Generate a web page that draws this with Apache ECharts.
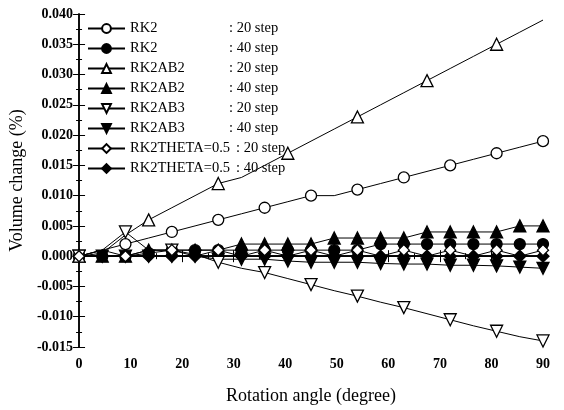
<!DOCTYPE html>
<html><head><meta charset="utf-8">
<script src="https://cdn.jsdelivr.net/npm/echarts@6/dist/echarts.min.js"></script>
<style>html,body{margin:0;padding:0;background:#fff}#c{width:564px;height:410px}</style>
</head><body><div id="c"></div>
<script>
// Rotation angle samples (degrees)
const angles = [0,4.5,9,13.5,18,22.5,27,31.5,36,40.5,45,49.5,54,58.5,63,67.5,72,76.5,81,85.5,90];
const xTicks = [0,10,20,30,40,50,60,70,80,90];
const yTicks = [-0.015,-0.010,-0.005,0.000,0.005,0.010,0.015,0.020,0.025,0.030,0.035,0.040];

const rk2_20      = [0,0.001,0.002,0.003,0.004,0.005,0.006,0.007,0.008,0.009,0.010,0.010,0.011,0.012,0.013,0.014,0.015,0.016,0.017,0.018,0.019];
const rk2_40      = [0,0,0,0.0005,0.001,0.001,0.001,0.001,0.001,0.001,0.001,0.001,0.001,0.002,0.002,0.002,0.002,0.002,0.002,0.002,0.002];
const rk2ab2_20   = [0,0.0005,0.0035,0.006,0.008,0.010,0.012,0.013,0.015,0.017,0.019,0.021,0.023,0.025,0.027,0.029,0.031,0.033,0.035,0.037,0.039];
const rk2ab2_40   = [0,0,0,0.001,0.001,0.001,0.001,0.002,0.002,0.002,0.002,0.003,0.003,0.003,0.003,0.004,0.004,0.004,0.004,0.005,0.005];
const rk2ab3_20   = [0,0.001,0.004,0.001,0.001,0.0003,-0.001,-0.002,-0.0027,-0.0037,-0.0047,-0.0057,-0.0066,-0.0076,-0.0085,-0.0095,-0.0105,-0.0115,-0.0124,-0.0133,-0.014];
const rk2ab3_40   = [0,0,0,0,0,0,-0.0005,-0.0005,-0.0005,-0.0008,-0.001,-0.001,-0.001,-0.0012,-0.0013,-0.0013,-0.0015,-0.0015,-0.0016,-0.0018,-0.002];
const theta_20    = [0,0.001,0,0.001,0.001,0,0.001,0,0.001,0,0.001,0,0.001,0,0.001,0,0.001,0,0.001,0,0.001];
const theta_40    = [0,0,0,0,0,0,0,0,0,0,0,0,0,0,0,0,0,0,0,0,0];

const methods = ['RK2','RK2','RK2AB2','RK2AB2','RK2AB3','RK2AB3','RK2THETA=0.5','RK2THETA=0.5'];
const steps   = [': 20 step',': 40 step',': 20 step',': 40 step',': 20 step',': 40 step',': 20 step',': 40 step'];
const values  = [rk2_20, rk2_40, rk2ab2_20, rk2ab2_40, rk2ab3_20, rk2ab3_40, theta_20, theta_40];
const symbols = ['circle','circle','triangle','triangle','triangle','triangle','diamond','diamond'];
const rotates = [0,0,0,0,180,180,0,0];
const filled  = [false,true,false,true,false,true,false,true];
const markEvery = [2,1,3,1,2,1,2,1];
const sizes   = [11,11,12,12,12,12,11,12];

const names = methods.map((m,i)=>m+'|'+steps[i]);
const series = names.map((nm,i)=>({
  name: nm, type:'line', xAxisIndex:0, yAxisIndex:0,
  symbol: symbols[i], symbolRotate: rotates[i], symbolSize: sizes[i],
  showAllSymbol: true,
  lineStyle:{color:'#000', width:1},
  itemStyle:{color: filled[i] ? '#000' : '#fff', borderColor:'#000', borderWidth:1.3},
  emphasis:{disabled:true},
  z: filled[i] ? 3 : 4,
  data: angles.map((a,k)=> (k % markEvery[i] === 0) ? [a, values[i][k]] : {value:[a, values[i][k]], symbol:'none'}),
  animation:false
}));

const fmtY = v => Math.abs(v) < 1e-9 ? '0.000' : v.toFixed(3);
const labelFont = {fontFamily:'Liberation Serif', fontWeight:'bold', fontSize:14, color:'#000'};
const common = {axisLine:{show:true,lineStyle:{color:'#000',width:1.5}}, splitLine:{show:false}};
const lf = {fontFamily:'Liberation Serif', fontSize:14.5, color:'#000'};

const chart = echarts.init(document.getElementById('c'), null, {renderer:'canvas'});
chart.setOption({
  animation:false,
  backgroundColor:'#fff',
  grid:{left:79, right:21, top:14, bottom:53},
  legend:{
    orient:'vertical', left:82, top:16, itemWidth:37, itemHeight:11, itemGap:5,
    data:names, selectedMode:false,
    formatter: n => { const p = n.split('|'); return (p[0].length > 8 ? '{c|' : '{a|') + p[0] + '}{b|' + p[1] + '}'; },
    textStyle:Object.assign({rich:{a:Object.assign({width:99}, lf), c:Object.assign({width:106}, lf), b:lf}}, lf)
  },
  xAxis:[
    Object.assign({type:'value', min:xTicks[0], max:xTicks[xTicks.length-1], interval:10, position:'bottom',
      name:'Rotation angle (degree)', nameLocation:'middle', nameGap:40,
      nameTextStyle:{fontFamily:'Liberation Serif', fontSize:18, color:'#000'},
      axisTick:{inside:true, length:6, lineStyle:{color:'#000'}},
      minorTick:{show:true, splitNumber:2, length:3, lineStyle:{color:'#000'}},
      axisLabel:Object.assign({margin:10}, labelFont)}, common),
    Object.assign({type:'value', min:0, max:90, interval:10, position:'top',
      axisTick:{inside:true, length:6, lineStyle:{color:'#000'}},
      minorTick:{show:true, splitNumber:2, length:3, lineStyle:{color:'#000'}},
      axisLabel:{show:false}}, common)
  ],
  yAxis:[
    Object.assign({type:'value', min:yTicks[0], max:yTicks[yTicks.length-1], interval:0.005, position:'left',
      name:'Volume change (%)', nameLocation:'middle', nameGap:44,
      nameTextStyle:{fontFamily:'Liberation Serif', fontSize:18, color:'#000'},
      axisTick:{inside:true, length:6, lineStyle:{color:'#000'}},
      minorTick:{show:true, splitNumber:2, length:3, lineStyle:{color:'#000'}},
      axisLabel:Object.assign({margin:6, formatter:fmtY}, labelFont)}, common),
    Object.assign({type:'value', min:-0.015, max:0.040, interval:0.005, position:'right',
      axisTick:{inside:true, length:6, lineStyle:{color:'#000'}},
      minorTick:{show:true, splitNumber:2, length:3, lineStyle:{color:'#000'}},
      axisLabel:{show:false}}, common)
  ],
  series: series
});
</script></body></html>
